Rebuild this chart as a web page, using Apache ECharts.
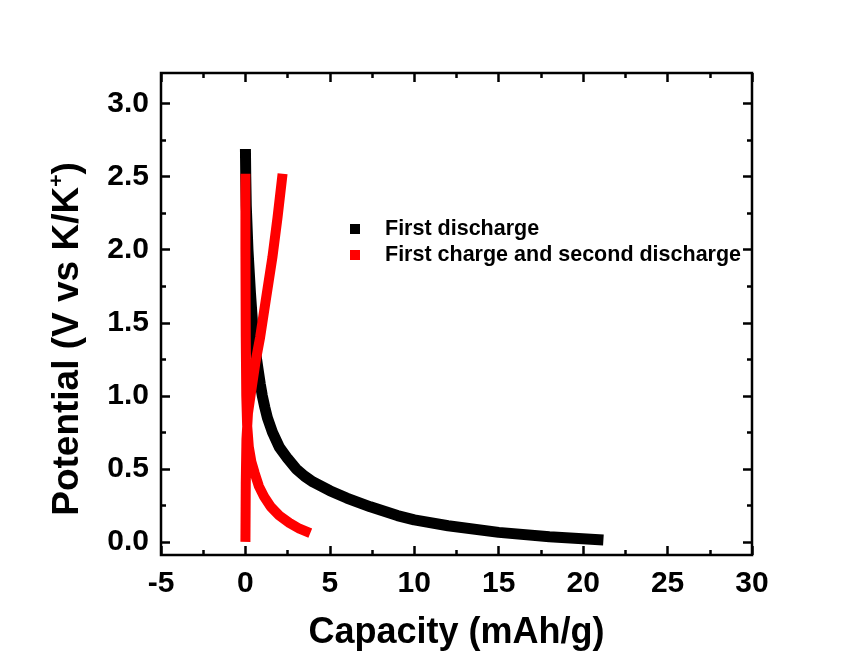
<!DOCTYPE html>
<html>
<head>
<meta charset="utf-8">
<script src="https://cdn.jsdelivr.net/npm/echarts@6/dist/echarts.min.js"></script>
<style>html,body{margin:0;padding:0;background:#fff;}#c{width:864px;height:661px;}</style>
</head>
<body>
<div id="c"></div>
<script>
// ---- data ----
var seriesNames = ['First discharge', 'First charge and second discharge'];

// First discharge (black)
var dis1X = [0, 0.02, 0.05, 0.15, 0.3, 0.45, 0.6, 0.75, 0.88, 1.0, 1.15, 1.3, 1.6, 2.0, 2.5, 3.0, 3.5, 4.0, 5.0, 6.0, 7.4, 9.0, 10.0, 12.0, 15.0, 18.0, 21.2];
var dis1Y = [2.69, 2.5, 2.3, 2.0, 1.7, 1.45, 1.3, 1.18, 1.08, 1.0, 0.92, 0.85, 0.75, 0.65, 0.57, 0.5, 0.45, 0.41, 0.35, 0.3, 0.24, 0.18, 0.15, 0.11, 0.065, 0.035, 0.012];

// First charge (red)
var chgX = [0, 0.02, 0.06, 0.15, 0.3, 0.58, 0.87, 1.2, 1.6, 1.9, 2.2];
var chgY = [0.0, 0.4, 0.7, 0.88, 1.0, 1.22, 1.4, 1.65, 1.95, 2.22, 2.52];

// Second discharge (red)
var dis2X = [0, 0, 0.02, 0.05, 0.1, 0.2, 0.35, 0.55, 0.8, 1.1, 1.5, 2.0, 2.6, 3.2, 3.84];
var dis2Y = [2.52, 2.0, 1.4, 1.0, 0.8, 0.65, 0.55, 0.47, 0.38, 0.31, 0.24, 0.18, 0.13, 0.09, 0.06];

// tick values
var xTicks = [-5, 0, 5, 10, 15, 20, 25, 30];
var yMajor = [0, 0.5, 1.0, 1.5, 2.0, 2.5, 3.0];
var yMinor = [0.25, 0.75, 1.25, 1.75, 2.25, 2.75];

function pairs(xs, ys) { return xs.map(function (x, i) { return [x, ys[i]]; }); }
var blackData = pairs(dis1X, dis1Y);
var redData = pairs(chgX, chgY).concat(['-']).concat(pairs(dis2X, dis2Y));

var FONT = '"Liberation Sans", Arial, sans-serif';
var tickStyle = { color: '#000', width: 2.5 };

function yAx(pos, vals, len, labels, name) {
  var a = {
    type: 'value', position: pos, min: -0.09, max: 3.21,
    axisLine: { show: false, onZero: false },
    splitLine: { show: false },
    axisTick: { show: true, inside: true, length: len, lineStyle: tickStyle, customValues: vals },
    axisLabel: { show: labels, customValues: vals, margin: 12, color: '#000', fontFamily: FONT, fontWeight: 'bold', fontSize: 30,
      formatter: function (v) { return Number(v).toFixed(1); } }
  };
  if (name) {
    a.name = name;
    a.nameLocation = 'middle';
    a.nameGap = 72;
    a.nameTextStyle = { color: '#000', fontFamily: FONT, fontWeight: 'bold', fontSize: 37, lineHeight: 42, padding: [0, 50, 0, 0],
      rich: { sup: { fontFamily: FONT, fontWeight: 'bold', fontSize: 21, lineHeight: 42, verticalAlign: 'top', padding: [0, 0, 18, 0] } } };
  }
  return a;
}

function xAx(pos, labels, name) {
  var a = { type: 'value', position: pos, min: -5, max: 30, interval: 5,
    axisLine: { show: false, onZero: false }, splitLine: { show: false },
    axisTick: { show: true, inside: true, length: 9, lineStyle: tickStyle },
    minorTick: { show: true, splitNumber: 2, length: 5, lineStyle: tickStyle },
    axisLabel: { show: labels, margin: 14, color: '#000', fontFamily: FONT, fontWeight: 'bold', fontSize: 30 } };
  if (name) {
    a.name = name; a.nameLocation = 'middle'; a.nameGap = 60;
    a.nameTextStyle = { color: '#000', fontFamily: FONT, fontWeight: 'bold', fontSize: 36 };
  }
  return a;
}

var chart = echarts.init(document.getElementById('c'), null, { renderer: 'canvas' });
chart.setOption({
  backgroundColor: '#fff',
  animation: false,
  grid: { left: 161, top: 73, right: 112, bottom: 106, show: true, borderColor: '#000', borderWidth: 2.5, backgroundColor: 'transparent' },
  legend: {
    orient: 'vertical', left: 345, top: 213, itemWidth: 10, itemHeight: 10, itemGap: 4,
    icon: 'rect',
    textStyle: { color: '#000', fontFamily: FONT, fontWeight: 'bold', fontSize: 21.5, padding: [0, 0, 0, 20] },
    data: seriesNames
  },
  xAxis: [
    xAx('bottom', true, 'Capacity (mAh/g)'),
    xAx('top', false)
  ],
  yAxis: [
    yAx('left', yMajor, 9, true, 'Potential (V vs K/K{sup|+})'),
    yAx('left', yMinor, 5, false),
    yAx('right', yMajor, 9, false),
    yAx('right', yMinor, 5, false)
  ],
  series: [
    { name: seriesNames[0], type: 'line', xAxisIndex: 0, yAxisIndex: 0, data: blackData,
      showSymbol: false, symbol: 'none', smooth: false,
      itemStyle: { color: '#000' }, lineStyle: { color: '#000', width: 11, join: 'round' } },
    { name: seriesNames[1], type: 'line', xAxisIndex: 0, yAxisIndex: 0, data: redData,
      showSymbol: false, symbol: 'none', smooth: false, connectNulls: false,
      itemStyle: { color: '#ff0000' }, lineStyle: { color: '#ff0000', width: 10, join: 'round' } }
  ]
});
</script>
</body>
</html>
